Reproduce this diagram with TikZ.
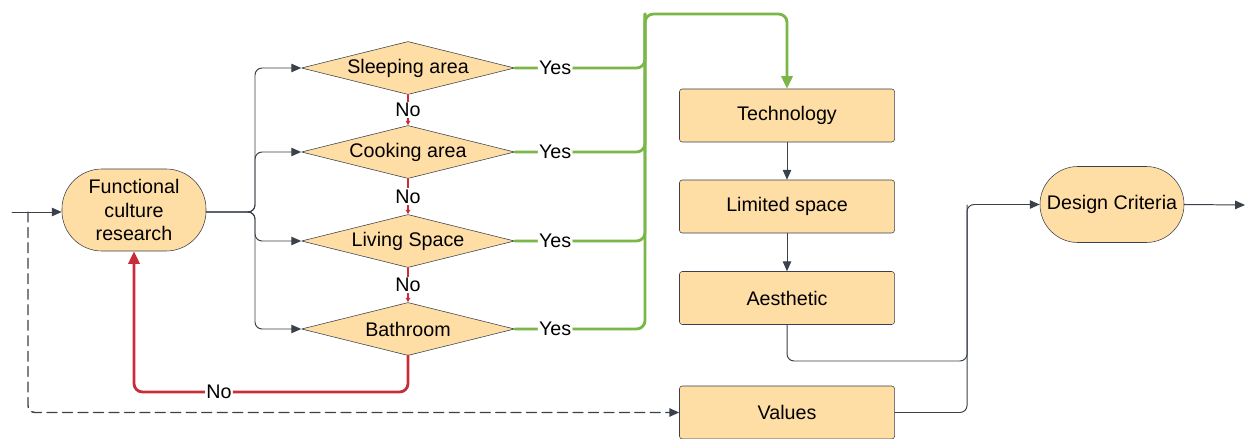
\documentclass[tikz,border=0pt]{standalone}
\usepackage{fontspec}
\setmainfont{Liberation Sans}
\usepackage{tikz}
\usetikzlibrary{arrows.meta,calc,shapes.geometric}

\definecolor{boxfill}{HTML}{FFDEA6}
\definecolor{edge}{HTML}{3A414A}
\definecolor{yesgreen}{HTML}{7AB648}
\definecolor{nored}{HTML}{C92D39}

\begin{document}
\begin{tikzpicture}[x=0.025cm, y=-0.025cm, >=Triangle, line cap=round, line join=round,
    every node/.style={font=\fontsize{14}{17}\selectfont},
    stadium/.style={draw=edge, fill=boxfill, minimum width=3.6cm, align=center, inner sep=0pt},
    decision/.style={diamond, draw=edge, fill=boxfill, inner sep=0pt, shape aspect=4,
        minimum width=5.325cm, minimum height=1.325cm},
    stepbox/.style={draw=edge, fill=boxfill, rounded corners=2pt, minimum width=5.375cm,
        minimum height=1.325cm},
    conn/.style={draw=edge, line width=0.7pt, rounded corners=5pt},
    yesline/.style={draw=yesgreen, line width=2pt, rounded corners=6pt},
    noline/.style={draw=nored, line width=2pt, rounded corners=6pt},
    lbl/.style={fill=white, inner sep=1pt}]
    \useasboundingbox (0,0) rectangle (1248,439);

    \coordinate (in) at (12,212);
    \coordinate (split) at (28,212);
    \coordinate (fork) at (255,212);
    \coordinate (trunk) at (645,14);
    \coordinate (ret) at (134,392);
    \coordinate (join) at (967,361);
    \coordinate (bend) at (967,205);
    \coordinate (out) at (1245,205);

    \node[stadium, rounded corners=1cm, minimum height=2.05cm] (fcr) at (134,210)
        {Functional\\culture\\research};

    \node[decision] (sleep) at (408,68) {Sleeping area};
    \node[decision] (cook) at (408,152) {Cooking area};
    \node[decision] (live) at (408,241) {Living Space};
    \node[decision] (bath) at (408,329) {Bathroom};

    \node[stepbox] (tech) at (787,115.5) {Technology};
    \node[stepbox] (space) at (787,206.5) {Limited space};
    \node[stepbox] (aes) at (787,298) {Aesthetic};
    \node[stepbox] (vals) at (787,412.5) {Values};

    \node[stadium, rounded corners=0.95cm, minimum height=1.9cm] (dc) at (1112,204.5)
        {Design Criteria};

    % input and branches
    \draw[conn, -{Triangle[length=7pt, width=6pt]}] (in) -- (fcr.west |- in);
    \draw[conn, line width=1pt, dash pattern=on 7pt off 4pt, -{Triangle[length=7pt, width=6pt]}]
        (split) |- (vals.west);
    \foreach \d in {sleep, cook, live, bath}
        \draw[conn, -{Triangle[length=7pt, width=6pt]}] (fcr.east |- fork) -- (fork) |- (\d.west);

    % no
    \draw[draw=nored, line width=1pt, -{Triangle[length=3pt, width=3pt]}]
        (sleep.south) -- node[lbl]{No} (cook.north);
    \draw[draw=nored, line width=1pt, -{Triangle[length=3pt, width=3pt]}]
        (cook.south) -- node[lbl]{No} (live.north);
    \draw[draw=nored, line width=1pt, -{Triangle[length=3pt, width=3pt]}]
        (live.south) -- node[lbl]{No} (bath.north);
    \draw[noline, -{Triangle[length=9pt, width=8pt]}]
        (bath.south) |- node[lbl, pos=0.845]{No} (ret) -- (fcr.south);

    % yes
    \foreach \d in {sleep, cook, live}
        \draw[yesline] (\d.east) -- node[lbl, pos=0.31]{Yes} (\d.east -| trunk) -- (trunk);
    \draw[yesline, -{Triangle[length=9pt, width=8pt]}]
        (bath.east) -- node[lbl, pos=0.31]{Yes} (bath.east -| trunk) -- (trunk) -| (tech.north);

    % right column
    \draw[conn, -{Triangle[length=7pt, width=6pt]}] (tech) -- (space);
    \draw[conn, -{Triangle[length=7pt, width=6pt]}] (space) -- (aes);
    \draw[conn, -{Triangle[length=7pt, width=6pt]}] (aes.south) |- (join) |- (dc.west);
    \draw[conn] (vals.east) -| (bend);
    \draw[conn, -{Triangle[length=7pt, width=6pt]}] (dc.east) -- (out);

\end{tikzpicture}
\end{document}
